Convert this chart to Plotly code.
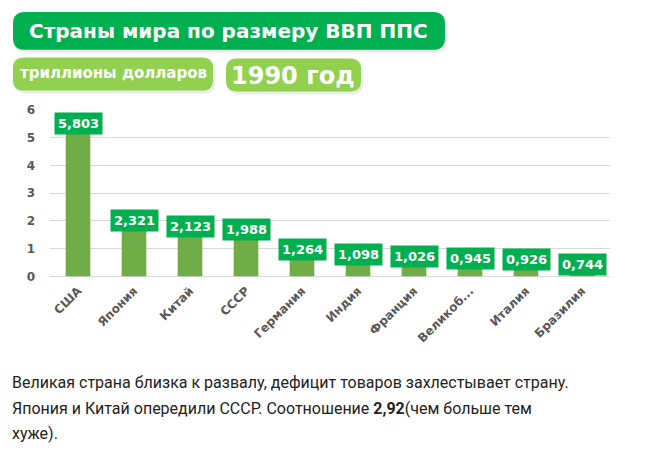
import plotly.graph_objects as go

# page has an 8px body margin, so the figure is a bit smaller than the window
OFF = 8
W, H = 663 - 2 * OFF, 459 - 2 * OFF

countries = ["США", "Япония", "Китай", "СССР", "Германия", "Индия",
             "Франция", "Великоб...", "Италия", "Бразилия"]
gdp = [5.803, 2.321, 2.123, 1.988, 1.264, 1.098, 1.026, 0.945, 0.926, 0.744]

title_text = "Страны мира по размеру ВВП ППС"
unit_text = "триллионы долларов"
year_text = "1990 год"
note_lines = [
    "Великая страна близка к развалу, дефицит товаров захлестывает страну.",
    "Япония и Китай опередили СССР. Соотношение <b>2,92</b>(чем больше тем",
    "хуже).",
]

DARK = "#00B050"
LIGHT = "#92D050"
BAR = "#70AD47"
HEAVY = "DejaVu Sans"


#window pixels -> paper coords
def px(x):
    return (x - OFF) / W


def py(y):
    return 1 - (y - OFF) / H


#rounded rectangle in window pixels -> svg path in paper coords
def rounded(x0, y0, x1, y1, r):
    pts = [
        f"M {px(x0 + r)},{py(y0)}",
        f"L {px(x1 - r)},{py(y0)}",
        f"Q {px(x1)},{py(y0)} {px(x1)},{py(y0 + r)}",
        f"L {px(x1)},{py(y1 - r)}",
        f"Q {px(x1)},{py(y1)} {px(x1 - r)},{py(y1)}",
        f"L {px(x0 + r)},{py(y1)}",
        f"Q {px(x0)},{py(y1)} {px(x0)},{py(y1 - r)}",
        f"L {px(x0)},{py(y0 + r)}",
        f"Q {px(x0)},{py(y0)} {px(x0 + r)},{py(y0)}",
        "Z",
    ]
    return " ".join(pts)


fig = go.Figure()

fig.add_trace(
    go.Bar(
        x=countries,
        y=gdp,
        marker=dict(color=BAR, line=dict(width=0)),
        width=0.44,
        hoverinfo="x+y",
    )
)

shapes = []
for (x0, y0, x1, y1, r, col) in [
    (13, 5, 445, 44, 12, DARK),
    (13, 52, 213, 86, 11, LIGHT),
    (226, 53, 361, 87, 11, LIGHT),
]:
    shapes.append(dict(type="path", xref="paper", yref="paper",
                       path=rounded(x0 + 2, y0 + 3, x1 + 2, y1 + 3, r),
                       fillcolor="rgba(0,0,0,0.08)", line=dict(width=0), layer="below"))
    shapes.append(dict(type="path", xref="paper", yref="paper",
                       path=rounded(x0, y0, x1, y1, r),
                       fillcolor=col, line=dict(width=0), layer="below"))

annotations = [
    dict(text=f"<b>{title_text}</b>", x=px(229), y=py(25)),
    dict(text=f"<b>{unit_text}</b>", x=px(113), y=py(68)),
    dict(text=f"<b>{year_text}</b>", x=px(293), y=py(71)),
]
for a, size in zip(annotations, [20, 15, 24]):
    a.update(xref="paper", yref="paper", xanchor="center", yanchor="middle",
             showarrow=False,
             font=dict(family=HEAVY, size=size, color="white"))

for c, v in zip(countries, gdp):
    annotations.append(dict(
        x=c, y=v, xref="x", yref="y", yanchor="top", yshift=3,
        text=f"<b>{v:.3f}</b>".replace(".", ","), showarrow=False,
        bgcolor=DARK, borderpad=3,
        font=dict(family=HEAVY, size=13, color="white"),
    ))

for i, line in enumerate(note_lines):
    annotations.append(dict(
        text=line, x=px(10), y=py(388 + i * 26), xref="paper", yref="paper",
        xanchor="left", yanchor="middle", showarrow=False,
        font=dict(family="Roboto", size=16, color="#222222"),
    ))

fig.update_layout(
    width=W,
    height=H,
    margin=dict(l=0, r=0, t=0, b=0),
    paper_bgcolor="white",
    plot_bgcolor="white",
    showlegend=False,
    xaxis=dict(
        domain=[px(50), px(610)],
        tickangle=-45,
        tickfont=dict(family=HEAVY, size=12, color="#595959", weight="bold"),
        showgrid=False,
        showline=False,
        ticks="",
        ticklabelstandoff=4,
        fixedrange=True,
    ),
    yaxis=dict(
        domain=[py(278), py(106)],
        range=[0, 6],
        dtick=1,
        showgrid=True,
        gridcolor="#D9D9D9",
        gridwidth=1,
        zeroline=True,
        zerolinecolor="#D9D9D9",
        zerolinewidth=1,
        tickfont=dict(family=HEAVY, size=12, color="#595959", weight="bold"),
        ticklabelstandoff=14,
        fixedrange=True,
    ),
    shapes=shapes,
    annotations=annotations,
)

fig.write_html("out.html")
